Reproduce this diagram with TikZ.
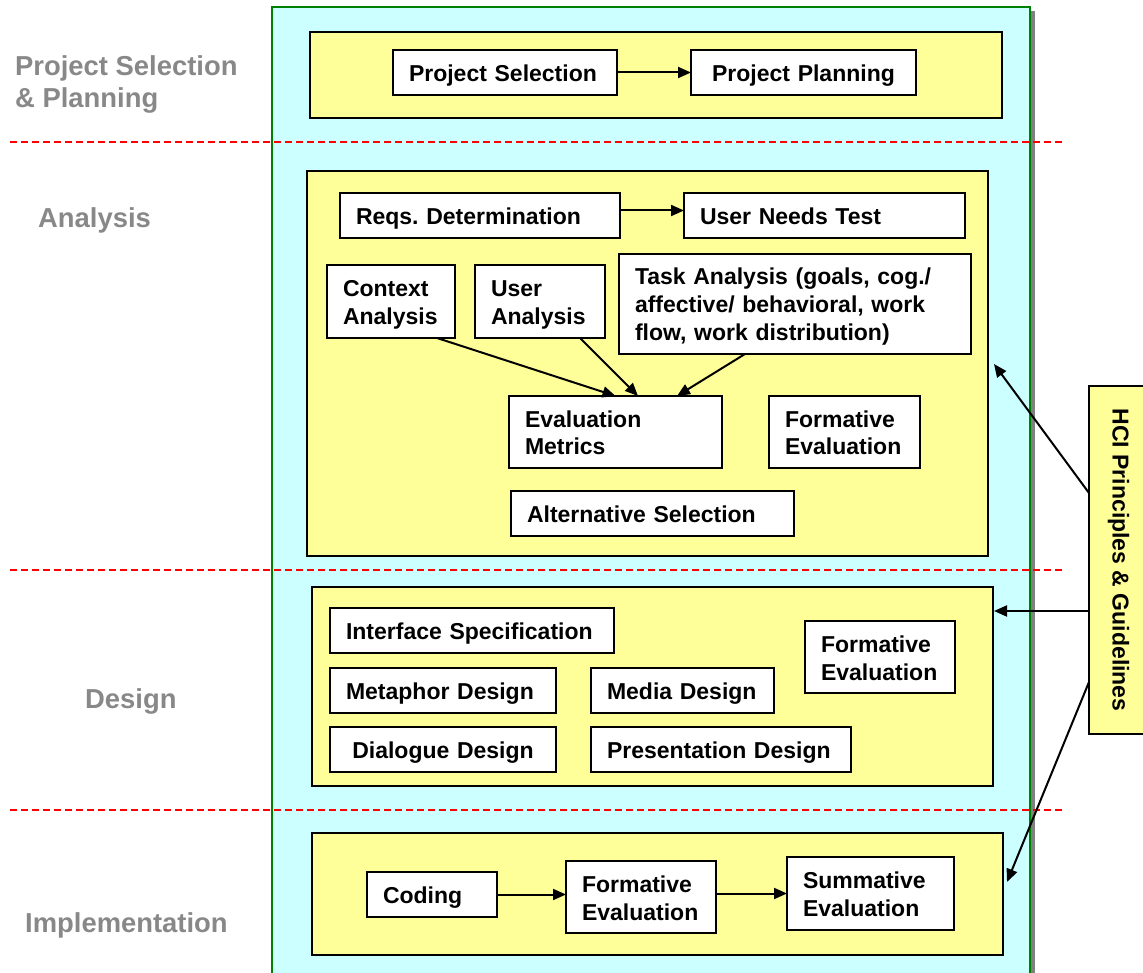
\documentclass[tikz,border=0pt]{standalone}
\usepackage{fontspec}
\setmainfont{Liberation Sans}
\usetikzlibrary{arrows.meta}
\definecolor{panelcyan}{HTML}{CCFFFF}
\definecolor{stageyellow}{HTML}{FFFF99}
\definecolor{panelgreen}{HTML}{008000}
\definecolor{labelgray}{HTML}{888888}
\definecolor{dashred}{HTML}{FF0000}
\definecolor{shadowgray}{HTML}{808080}
\newcommand{\boxfont}{\fontsize{23}{28}\selectfont\bfseries\frenchspacing}
\newcommand{\lblfont}{\fontsize{27.4}{32}\selectfont\bfseries}
\begin{document}
\begin{tikzpicture}[x=1pt,y=-1pt,
  bx/.style={draw=black, fill=white, line width=2pt, font=\boxfont, align=left,
             inner xsep=16pt, inner ysep=0pt, anchor=north west, outer sep=0pt,
             execute at begin node={\rule{0pt}{24pt}},
             execute at end node={\rule[-6pt]{0pt}{6pt}}},
  stage/.style={draw=black, fill=stageyellow, line width=2pt, anchor=north west,
                inner sep=0pt, outer sep=0pt},
  lbl/.style={font=\lblfont, text=labelgray, anchor=base west, align=left, inner sep=0pt},
  flow/.style={line width=2pt, -{Triangle[length=13pt,width=11pt]}},
  sepline/.style={dashred, line width=1.6pt, dash pattern=on 7pt off 4pt}]
\useasboundingbox (0,0) rectangle (1143,973);
\clip (0,0) rectangle (1143,973);

% panel
\fill[shadowgray] (1030,11) rectangle (1035,990);
\draw[panelgreen, line width=1.2pt, fill=panelcyan] (272,7) rectangle (1030,990);

% separators
\draw[sepline] (10,142) -- (1063,142);
\draw[sepline] (10,570) -- (1063,570);
\draw[sepline] (10,810) -- (1063,810);

% phase labels
\node[lbl] (lplan) at (15,108) {Project Selection\\\& Planning};
\node[lbl] (lana) at (38,228) {Analysis};
\node[lbl] (ldes) at (85,708) {Design};
\node[lbl] (limp) at (25,932) {Implementation};

% stage containers
\node[stage, minimum width=692pt, minimum height=86pt] (s1) at (310,32) {};
\node[stage, minimum width=681pt, minimum height=385pt] (s2) at (307,171) {};
\node[stage, minimum width=681pt, minimum height=199pt] (s3) at (312,587) {};
\node[stage, minimum width=691pt, minimum height=122pt] (s4) at (312,833) {};

% stage 1
\node[bx, text width=192pt, minimum height=45pt] (ps) at (393,50) {Project Selection};
\node[bx, text width=193pt, minimum height=45pt, align=center] (pp) at (691,50) {Project Planning};

% stage 2
\node[bx, text width=248pt, minimum height=45pt] (rd) at (340,193) {Reqs. Determination};
\node[bx, text width=249pt, minimum height=45pt] (un) at (684,193) {User Needs Test};
\node[bx, text width=96pt, minimum height=73pt] (ctx) at (327,265) {Context\\Analysis};
\node[bx, text width=98pt, minimum height=73pt] (ua) at (475,265) {User\\Analysis};
\node[bx, text width=320pt, minimum height=100pt] (ta) at (619,254) {Task Analysis (goals, cog./\\affective/ behavioral, work\\flow, work distribution)};
\node[bx, text width=181pt, minimum height=72pt] (em) at (509,396) {Evaluation\\Metrics};
\node[bx, text width=119pt, minimum height=72pt] (fa) at (769,396) {Formative\\Evaluation};
\node[bx, text width=251pt, minimum height=45pt] (as) at (511,491) {Alternative Selection};

% stage 3
\node[bx, text width=252pt, minimum height=45pt] (is) at (330,608) {Interface Specification};
\node[bx, text width=194pt, minimum height=45pt] (md) at (330,668) {Metaphor Design};
\node[bx, text width=194pt, minimum height=45pt, align=center] (dd) at (330,727) {Dialogue Design};
\node[bx, text width=151pt, minimum height=45pt] (med) at (591,668) {Media Design};
\node[bx, text width=228pt, minimum height=45pt] (pd) at (591,727) {Presentation Design};
\node[bx, text width=118pt, minimum height=72pt] (fd) at (805,621) {Formative\\Evaluation};

% stage 4
\node[bx, text width=98pt, minimum height=45pt] (cod) at (367,872) {Coding};
\node[bx, text width=118pt, minimum height=72pt] (fi) at (566,861) {Formative\\Evaluation};
\node[bx, text width=135pt, minimum height=73pt] (su) at (787,857) {Summative\\Evaluation};

% HCI
\node[stage, anchor=center, rotate=-90, minimum width=348pt, minimum height=59pt,
      font=\boxfont] (hci) at (1118.5,560) {HCI Principles \& Guidelines};

% connectors
\draw[flow] (ps) -- (pp);
\draw[flow] ([yshift=5pt]rd.east) -- ([yshift=5pt]un.west);
\draw[flow] ([xshift=46pt]ctx.south) -- (em.north);
\draw[flow] ([xshift=40pt]ua.south) -- ([xshift=22.5pt]em.north);
\draw[flow] ([xshift=-50pt]ta.south) -- ([xshift=61.5pt]em.north);
\draw[flow] (cod.east) -- (cod.east -| fi.west);
\draw[flow] (fi.east |- su.west) -- (su.west);

\coordinate (t1) at (994,364);
\coordinate (t2) at (994,611);
\coordinate (t3) at (1007,882);
\draw[flow] (hci.south |- 0,493) -- (t1);
\draw[flow] (hci.south |- 0,611) -- (t2);
\draw[flow] (hci.south |- 0,682) -- (t3);
\end{tikzpicture}
\end{document}
